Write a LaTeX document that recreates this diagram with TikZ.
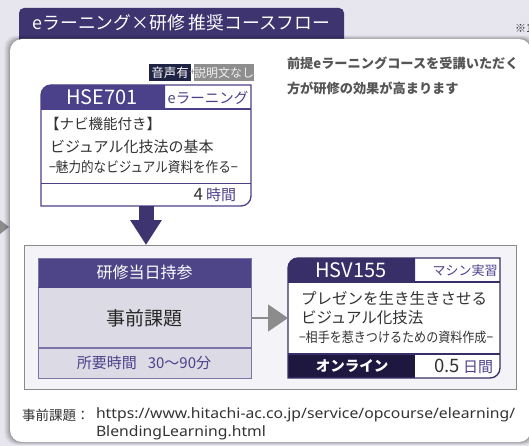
\documentclass[tikz,border=0pt]{standalone}
\usepackage{fontspec}
\setmainfont{Noto Sans CJK JP}
\newfontfamily\urlfont[FakeStretch=1.1]{Noto Sans}
\newfontfamily\condfont[FakeStretch=0.88]{Noto Sans CJK JP}
\usetikzlibrary{arrows.meta}
\definecolor{bg}{HTML}{E7E5EE}
\definecolor{tabc}{HTML}{3D3470}
\definecolor{hsec}{HTML}{4B418A}
\definecolor{hsvc}{HTML}{382F68}
\definecolor{navy}{HTML}{1E1740}
\definecolor{midp}{HTML}{4E4589}
\definecolor{midb}{HTML}{7B74A8}
\definecolor{lgb}{HTML}{DCDBE5}
\definecolor{framefill}{HTML}{F4F3F8}
\definecolor{framedraw}{HTML}{8A8A8A}
\definecolor{greyarrow}{HTML}{8C8C8C}
\definecolor{txt}{HTML}{333333}
\definecolor{notetxt}{HTML}{555555}
\definecolor{ptxt}{HTML}{4B418A}
\definecolor{badge}{HTML}{1F2444}
\definecolor{badgeg}{HTML}{8E8E8E}
\newcommand\fsz[1]{\fontsize{#1}{#1}\selectfont}
\begin{document}
\begin{tikzpicture}[x=1pt,y=-1pt,
  every node/.style={inner sep=0pt,outer sep=0pt},
  lineW/.style={anchor=west,text=txt},
  whitetxt/.style={text=white},
  purpletxt/.style={text=ptxt}]
\fill[bg] (0,0) rectangle (529,446);
\useasboundingbox (0,0) rectangle (529,446);
% title tab
\fill[tabc,rounded corners=5pt] (19,8) rectangle (344,50);
\node[whitetxt,font=\fsz{17.8}] (title) at (181.5,23) {eラーニング×研修 推奨コースフロー};
\node[anchor=west,text=txt,font=\fsz{11}] (note1) at (515,28) {※1};
% left arrow piece
\fill[greyarrow] (0,220) -- (9,227) -- (0,234) -- cycle;
% card shadow
\foreach \i/\o in {6/0.03,5/0.04,4/0.05,3/0.06,2/0.07,1/0.09}{
  \fill[black,opacity=\o,rounded corners=12pt] (10-\i,39-\i*0.6) rectangle (531+\i,442+\i*0.5);
}
% card
\fill[white,rounded corners=12pt] (10,39) rectangle (531,442);
% note
\node[anchor=west,text=notetxt,font=\fsz{13.2}\bfseries] (n1) at (287,63) {前提eラーニングコースを受講いただく};
\node[anchor=west,text=notetxt,font=\fsz{13.2}\bfseries] (n2) at (287,88) {方が研修の効果が高まります};
% badges
\node[fill=badge,whitetxt,font=\fsz{12.5},minimum width=42,minimum height=17,anchor=north west] (snd) at (149,64) {音声有};
\node[fill=badgeg,text=white!88!gray,font=\fsz{12},minimum width=58,minimum height=17,anchor=north west] (expl) at (194,64) {説明文なし};
\node[text=badgeg,font=\fsz{10}] (plus) at (192.5,72.5) {+};
% HSE701 box
\node[minimum width=210,minimum height=121,anchor=north west] (hse) at (41,85) {};
\fill[white] (41,95) arc[start angle=180,end angle=270,radius=10] -- (251,85) -- (251,196) arc[start angle=0,end angle=90,radius=10] -- (41,206) -- cycle;
\fill[hsec] (41,109) -- (41,95) arc[start angle=180,end angle=270,radius=10] -- (165,85) -- (165,109) -- cycle;
\draw[hsec,line width=1.3] (41,95) arc[start angle=180,end angle=270,radius=10] -- (251,85) -- (251,196) arc[start angle=0,end angle=90,radius=10] -- (41,206) -- cycle;
\draw[hsec,line width=1.2] (41,109) -- (251,109);
\draw[hsec,line width=0.8] (41,183) -- (251,183);
\node[whitetxt,font=\fsz{20}] (hsecode) at (102,97.5) {HSE701};
\node[purpletxt,font=\fsz{14.5}] (hsetype) at (208,97.5) {eラーニング};
\node[lineW,font=\fsz{14.5}] (h1) at (45,124) {【ナビ機能付き】};
\node[lineW,font=\fsz{15}] (h2) at (50,147) {ビジュアル化技法の基本};
\node[lineW,font=\condfont\fsz{14.3}] (h3) at (49,167) {−魅力的なビジュアル資料を作る−};
\node[anchor=east,font=\fsz{17}] (hsetime) at (236,195) {\textcolor{txt}{4}\,\textcolor{ptxt}{\fsz{15}時間}};
% lower frame
\node[draw=framedraw,fill=framefill,line width=1,minimum width=492,minimum height=144,anchor=north west] (frame) at (24,245) {};
% down arrow
\draw[tabc,line width=15pt,-{Triangle[width=30pt,length=25pt]}] (hse.south) -- (hse.south |- frame.north);
% prep box
\node[minimum width=213,minimum height=120,anchor=north west] (prep) at (38,258) {};
\fill[lgb] (38,258) rectangle (251,378);
\fill[midp] (38,258) rectangle (251,287);
\draw[midb,line width=1] (38,258) rectangle (251,378);
\draw[midb,line width=1.2] (38,348) -- (251,348);
\draw[midp,line width=1] (38,287) -- (251,287);
\node[whitetxt,font=\fsz{16}] (pt) at (144.5,272.5) {研修当日持参};
\node[text=black!85,font=\fsz{19}] (pm) at (144.5,318) {事前課題};
\node[purpletxt,font=\fsz{15}] (pf) at (144,363) {所要時間\hspace{11pt}30〜90分};
% HSV155 box
\node[minimum width=212,minimum height=120,anchor=north west] (hsv) at (288,258) {};
\fill[white] (288,268) arc[start angle=180,end angle=270,radius=10] -- (500,258) -- (500,368) arc[start angle=0,end angle=90,radius=10] -- (288,378) -- cycle;
\fill[hsvc] (288,282) -- (288,268) arc[start angle=180,end angle=270,radius=10] -- (415,258) -- (415,282) -- cycle;
\fill[navy] (288,354) rectangle (415,378);
\draw[hsvc,line width=1.3] (288,268) arc[start angle=180,end angle=270,radius=10] -- (500,258) -- (500,368) arc[start angle=0,end angle=90,radius=10] -- (288,378) -- cycle;
\draw[hsvc,line width=1.2] (288,282) -- (500,282);
\draw[hsvc,line width=1.2] (288,354) -- (500,354);
\node[whitetxt,font=\fsz{20}] (hsvcode) at (351,270.5) {HSV155};
\node[purpletxt,font=\fsz{13}] (hsvtype) at (465,270.5) {マシン実習};
\node[lineW,font=\fsz{15.5}] (v1) at (301,298) {プレゼンを生き生きさせる};
\node[lineW,font=\fsz{15.5}] (v2) at (301,318) {ビジュアル化技法};
\node[lineW,font=\condfont\fsz{13.7}] (v3) at (299,337) {−相手を惹きつけるための資料作成−};
\node[whitetxt,font=\fsz{14.5}\bfseries] (online) at (352,366) {オンライン};
\node[anchor=east,font=\fsz{18.5}] (hsvtime) at (493,366) {\textcolor{txt}{0.5}\,\textcolor{ptxt}{\fsz{15}日間}};
% grey arrow
\draw[greyarrow,line width=1.5,-{Triangle[width=27pt,length=20pt]}] (prep.east) -- (hsv.west);
% footer
\node[anchor=west,text=txt,font=\fsz{13.5}] (fl) at (22,415) {事前課題：};
\node[anchor=west,text=txt,font=\urlfont\fsz{14.3}] (url1) at (96,415) {https://www.hitachi-ac.co.jp/service/opcourse/elearning/};
\node[anchor=west,text=txt,font=\urlfont\fsz{14.3}] (url2) at (96,433) {BlendingLearning.html};
\end{tikzpicture}
\end{document}
